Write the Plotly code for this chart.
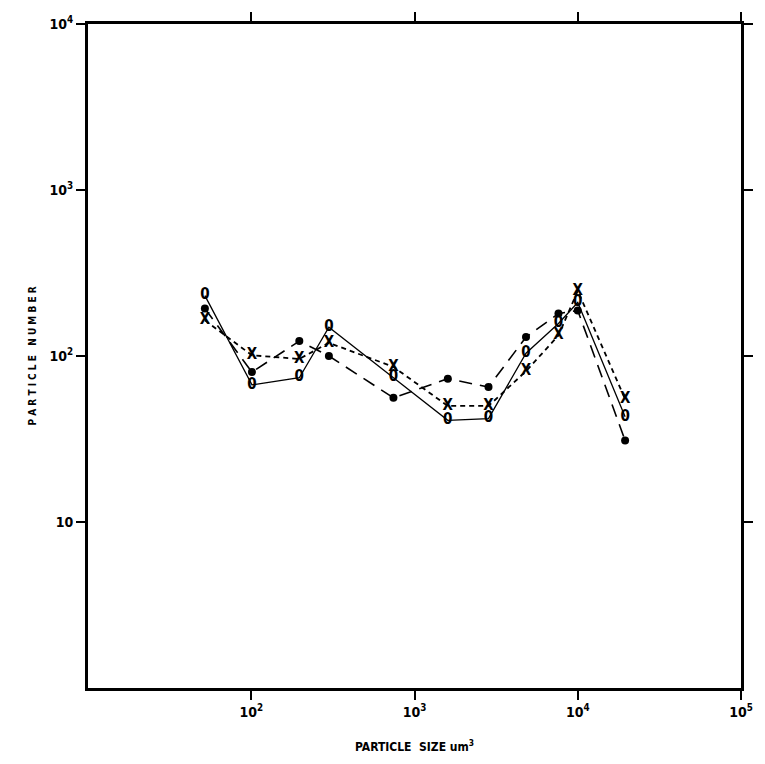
import plotly.graph_objects as go

# particle size (um^3) for each measured class
size_um3 = [52, 101, 197, 299, 743, 1600, 2840, 4820, 7620, 10000, 19500]

# particle counts for three samples
counts_open = [231, 67, 74, 149, 74, 41, 42, 104, 157, 210, 43]
counts_filled = [193, 80, 123, 100, 56, 73, 65, 130, 180, 188, 31]
counts_cross = [164, 101, 96, 120, 86, 50, 50, 81, 133, 247, 55]

x_tickvals = [100, 1000, 10000, 100000]
x_ticktext = ["10<sup>2</sup>", "10<sup>3</sup>", "10<sup>4</sup>", "10<sup>5</sup>"]
y_tickvals = [10, 100, 1000, 10000]
y_ticktext = ["10", "10<sup>2</sup>", "10<sup>3</sup>", "10<sup>4</sup>"]

FONT = "DejaVu Sans Condensed, DejaVu Sans, sans-serif"

fig = go.Figure()

fig.add_trace(go.Scatter(
    x=size_um3, y=counts_filled, mode="lines+markers",
    line=dict(color="black", width=1.6, dash="13px,8px"),
    marker=dict(symbol="circle", size=8, color="black"),
    showlegend=False,
))
fig.add_trace(go.Scatter(
    x=size_um3, y=counts_cross, mode="lines+text",
    line=dict(color="black", width=1.8, dash="5px,4px"),
    text=["X"] * len(size_um3), textposition="middle center",
    textfont=dict(family=FONT, size=15, color="black", weight="bold"),
    showlegend=False,
))
fig.add_trace(go.Scatter(
    x=size_um3, y=counts_open, mode="lines+text",
    line=dict(color="black", width=1.3),
    text=["0"] * len(size_um3), textposition="middle center",
    textfont=dict(family=FONT, size=15, color="black", weight="bold"),
    showlegend=False,
))

axis_common = dict(
    type="log", showgrid=False, zeroline=False,
    showline=True, linecolor="black", linewidth=3, mirror="ticks",
    ticks="outside", ticklen=9, tickwidth=2, tickcolor="black",
    tickfont=dict(family=FONT, size=14, color="black", weight="bold"),
)

fig.update_xaxes(range=[1, 5], tickvals=x_tickvals, ticktext=x_ticktext, **axis_common)
fig.update_yaxes(range=[0, 4], tickvals=y_tickvals, ticktext=y_ticktext, **axis_common)

fig.add_annotation(
    x=-0.085, y=0.5, xref="paper", yref="paper", xanchor="center", yanchor="middle",
    text="P A R T I C L E   N U M B E R", textangle=-90, showarrow=False,
    font=dict(family=FONT, size=10, color="black", weight="bold"),
)

fig.add_annotation(
    x=0.5, y=-0.072, xref="paper", yref="paper", xanchor="center", yanchor="top",
    text="PARTICLE  SIZE um<sup>3</sup>", showarrow=False,
    font=dict(family=FONT, size=12, color="black", weight="bold"),
)

fig.update_layout(
    width=765, height=764,
    margin=dict(l=88, r=13, t=16, b=76),
    paper_bgcolor="white", plot_bgcolor="white",
)

fig.write_html("out.html")
